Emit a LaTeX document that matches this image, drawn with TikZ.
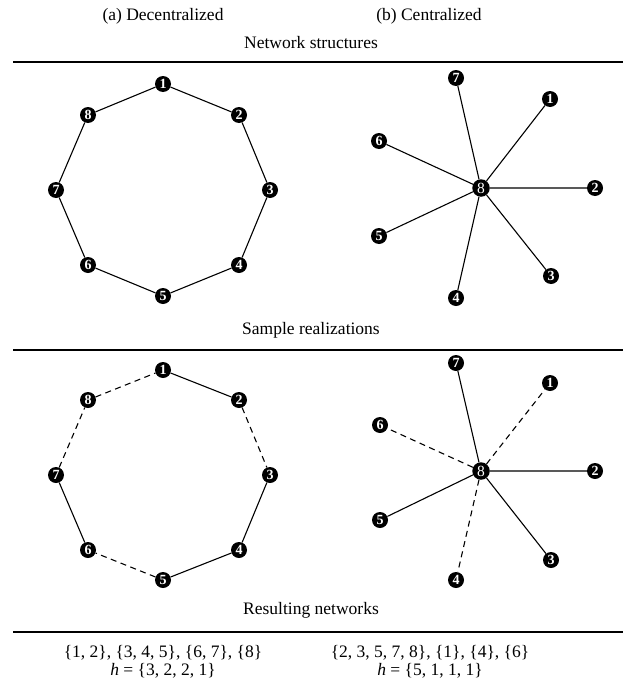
\documentclass[tikz,border=0pt]{standalone}
\usepackage{fontspec}
\setmainfont{Liberation Serif}
\begin{document}
\begin{tikzpicture}[x=1pt,y=-1pt,
  nd/.style={circle,fill=black,text=white,inner sep=0pt,minimum size=16pt,font=\fontsize{14}{14}\selectfont\bfseries},
  ndc/.style={circle,fill=black,text=white,inner sep=0pt,minimum size=17.5pt,font=\fontsize{15.5}{15.5}\selectfont},
  edge/.style={line width=1.1pt},
  dedge/.style={line width=1.1pt,dash pattern=on 6pt off 4.5pt},
  rule/.style={line width=1.4pt},
  lbl/.style={font=\fontsize{17.5}{20}\selectfont,inner sep=0pt}]
\useasboundingbox (0,0) rectangle (623,688);
% header texts
\node[lbl] (ta) at (163,16) {(a) Decentralized};
\node[lbl] (tb) at (429,16) {(b) Centralized};
\node[lbl] (t1) at (311,43) {Network structures};
\coordinate (r1a) at (13,62); \coordinate (r1b) at (623,62);
\draw[rule] (r1a) -- (r1b);
\node[lbl] (t2) at (311,330) {Sample realizations};
\coordinate (r2a) at (13,350); \coordinate (r2b) at (623,350);
\draw[rule] (r2a) -- (r2b);
\node[lbl] (t3) at (311,610) {Resulting networks};
\coordinate (r3a) at (13,632); \coordinate (r3b) at (623,632);
\draw[rule] (r3a) -- (r3b);
\node[lbl] (ra1) at (163,653) {\{1, 2\}, \{3, 4, 5\}, \{6, 7\}, \{8\}};
\node[lbl] (ra2) at (163,671) {\textit{h} = \{3, 2, 2, 1\}};
\node[lbl] (rb1) at (430,653) {\{2, 3, 5, 7, 8\}, \{1\}, \{4\}, \{6\}};
\node[lbl] (rb2) at (430,671) {\textit{h} = \{5, 1, 1, 1\}};
% top octagon
\node[nd] (a1) at (163,84) {1};
\node[nd] (a2) at (239,115) {2};
\node[nd] (a3) at (270,190) {3};
\node[nd] (a4) at (239,265) {4};
\node[nd] (a5) at (163,296) {5};
\node[nd] (a6) at (88,265) {6};
\node[nd] (a7) at (56,190) {7};
\node[nd] (a8) at (88,115) {8};
\draw[edge] (a1)--(a2) (a2)--(a3) (a3)--(a4) (a4)--(a5) (a5)--(a6) (a6)--(a7) (a7)--(a8) (a8)--(a1);
% top star
\node[ndc] (b8) at (481,188) {8};
\node[nd] (b7) at (456,78) {7};
\node[nd] (b1) at (550,99) {1};
\node[nd] (b6) at (379,141) {6};
\node[nd] (b2) at (595,188) {2};
\node[nd] (b5) at (379,236) {5};
\node[nd] (b3) at (551,276) {3};
\node[nd] (b4) at (456,298) {4};
\draw[edge] (b8)--(b7) (b8)--(b1) (b8)--(b6) (b8)--(b2) (b8)--(b5) (b8)--(b3) (b8)--(b4);
% bottom octagon
\node[nd] (c1) at (163,370) {1};
\node[nd] (c2) at (239,400) {2};
\node[nd] (c3) at (270,475) {3};
\node[nd] (c4) at (239,550) {4};
\node[nd] (c5) at (163,580) {5};
\node[nd] (c6) at (88,550) {6};
\node[nd] (c7) at (56,475) {7};
\node[nd] (c8) at (88,400) {8};
\draw[edge] (c1)--(c2) (c3)--(c4) (c4)--(c5) (c6)--(c7);
\draw[dedge] (c8)--(c1) (c2)--(c3) (c5)--(c6) (c7)--(c8);
% bottom star
\node[ndc] (d8) at (481,471) {8};
\node[nd] (d7) at (456,363) {7};
\node[nd] (d1) at (550,383) {1};
\node[nd] (d6) at (380,425) {6};
\node[nd] (d2) at (595,471) {2};
\node[nd] (d5) at (380,520) {5};
\node[nd] (d3) at (551,560) {3};
\node[nd] (d4) at (456,580) {4};
\draw[edge] (d8)--(d7) (d8)--(d2) (d8)--(d5) (d8)--(d3);
\draw[dedge] (d8)--(d1) (d8)--(d6) (d8)--(d4);
\end{tikzpicture}
\end{document}
